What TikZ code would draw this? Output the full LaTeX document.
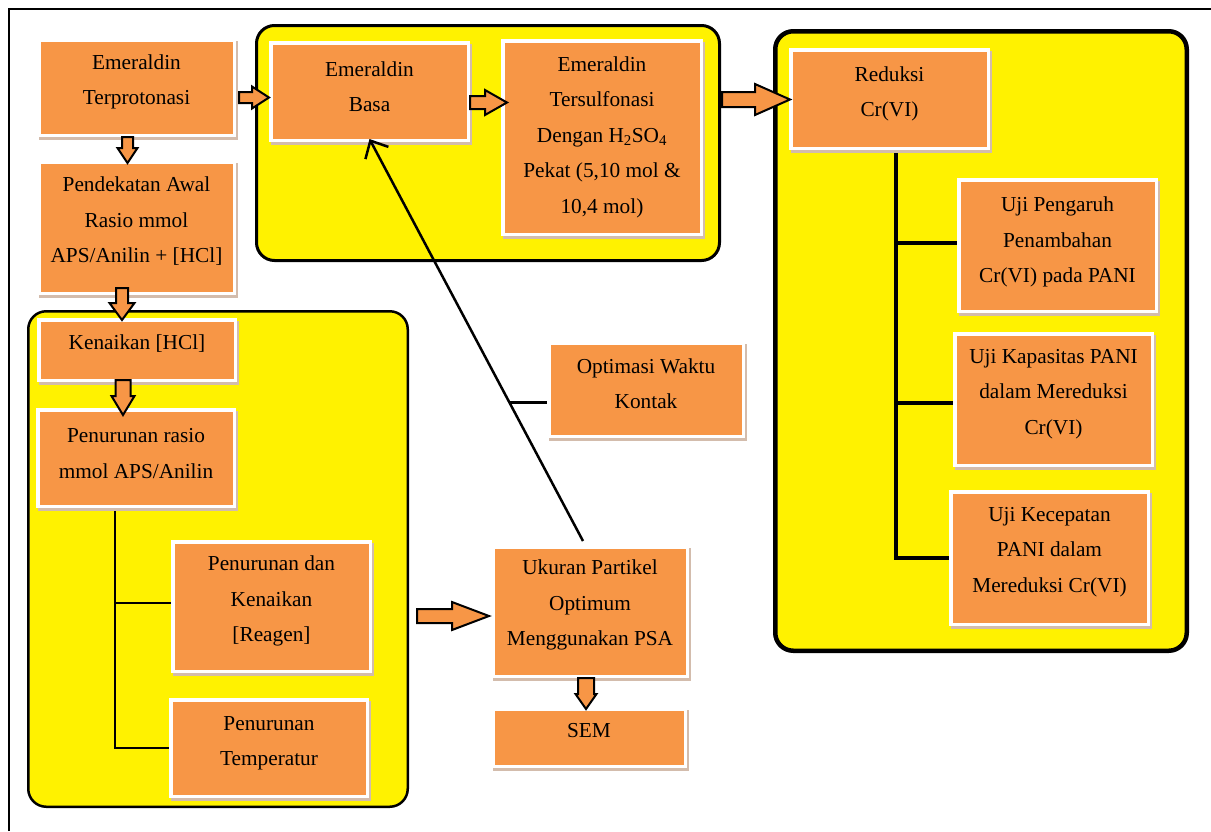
\documentclass[tikz,border=0pt]{standalone}
\usepackage{fontspec}
\setmainfont{Liberation Serif}
\usetikzlibrary{calc,arrows.meta}

\definecolor{boxorange}{HTML}{F79646}
\definecolor{grpyellow}{HTML}{FFF200}
\definecolor{boxshadow}{HTML}{D3BCAC}

\pgfdeclarelayer{back}
\pgfdeclarelayer{lines}
\pgfsetlayers{back,lines,main}

\tikzset{
  pbox/.style={fill=boxorange, draw=white, line width=3.5pt, inner sep=0pt},
  ptext/.style={align=center, inner sep=0pt, font=\fontsize{21.3}{35.5}\selectfont},
  grp/.style={fill=grpyellow, draw=black, rounded corners=18pt, inner sep=0pt},
  blk/.style={fill=boxorange, draw=black, line width=2pt, line join=miter},
  treeL/.style={draw=black, line width=2.3pt},
  treeR/.style={draw=black, line width=4pt},
  conn/.style={draw=black, line width=2.5pt},
}

% process box: [text shift]{name}{x1}{y1}{x2}{y2}{text}
\newcommand\pbox[7][5]{%
  \fill[boxshadow] ({#3+2},{#4+3}) rectangle ({#5+2},{#6+3});
  \node[pbox, minimum width={#5-#3-3.5}, minimum height={#6-#4-3.5}]
    (#2) at ({(#3+#5)/2},{(#4+#6)/2}) {};
  \node[ptext] (#2-t) at ([yshift=#1pt]#2.center) {#7};
}
% group container: {name}{x1}{y1}{x2}{y2}{line width}
\newcommand\grpbox[6]{%
  \node[grp, line width=#6pt, minimum width={#4-#2-#6}, minimum height={#5-#3-#6}]
    (#1) at ({(#2+#4)/2},{(#3+#5)/2}) {};
}
% block arrow pointing right: {from}{to}{half shaft}{half head}{head length}
\newcommand\rarr[5]{%
  \path[blk] let \p1=(#1), \p2=(#2) in
    (\x1,\y1+#3) -- (\x2-#5,\y1+#3) -- (\x2-#5,\y1+#4) -- (\x2,\y1)
    -- (\x2-#5,\y1-#4) -- (\x2-#5,\y1-#3) -- (\x1,\y1-#3) -- cycle;
}
% block arrow pointing down
\newcommand\darr[5]{%
  \path[blk] let \p1=(#1), \p2=(#2) in
    (\x1-#3,\y1) -- (\x1-#3,\y2+#5) -- (\x1-#4,\y2+#5) -- (\x1,\y2)
    -- (\x1+#4,\y2+#5) -- (\x1+#3,\y2+#5) -- (\x1+#3,\y1) -- cycle;
}

\begin{document}
\begin{tikzpicture}[x=1pt,y=-1pt]
\useasboundingbox (0,0) rectangle (1211,831);

% page frame
\draw[line width=2pt] (9,831) -- (9,9) -- (1211,9);

% group containers
\begin{pgfonlayer}{back}
  \grpbox{gA}{255}{24}{721}{262}{3}
  \grpbox{gB}{773}{29}{1189}{653}{4.5}
  \grpbox{gC}{27}{310}{409}{808}{2.5}
\end{pgfonlayer}

% process boxes
\pbox[5.5]{terp}{37}{38}{236}{137}{Emeraldin\\Terprotonasi}
\pbox[6]{pend}{37}{160}{236}{295}{Pendekatan Awal\\Rasio mmol\\APS/Anilin + [HCl]}
\pbox[5]{basa}{269}{41}{470}{142}{Emeraldin\\Basa}
\pbox[0.5]{ters}{501}{39}{703}{236}{Emeraldin\\Tersulfonasi\\Dengan H\textsubscript{2}SO\textsubscript{4}\\Pekat (5,10 mol \&\\10,4 mol)}
\pbox[5]{red}{789}{48}{990}{150}{Reduksi\\Cr(VI)}
\pbox[3.5]{peng}{957}{178}{1158}{313}{Uji Pengaruh\\Penambahan\\Cr(VI) pada PANI}
\pbox[5.5]{kap}{953}{332}{1154}{467}{Uji Kapasitas PANI\\dalam Mereduksi\\Cr(VI)}
\pbox[6]{kec}{949}{490}{1150}{626}{Uji Kecepatan\\PANI dalam\\Mereduksi Cr(VI)}
\pbox[6]{ken}{37}{318}{237}{382}{Kenaikan [HCl]}
\pbox[4.5]{rasio}{36}{408}{236}{508}{Penurunan rasio\\mmol APS/Anilin}
\pbox[5.5]{reag}{171}{540}{372}{673}{Penurunan dan\\Kenaikan\\{[Reagen]}}
\pbox[4.5]{temp}{169}{698}{369}{798}{Penurunan\\Temperatur}
\pbox[6]{opt}{547}{341}{745}{438}{Optimasi Waktu\\Kontak}
\pbox[6.5]{uk}{491}{545}{689}{678}{Ukuran Partikel\\Optimum\\Menggunakan PSA}
\pbox[7]{sem}{491}{707}{687}{768}{SEM}

% tree connectors
\begin{pgfonlayer}{lines}
  \coordinate (lt) at ([xshift=-21pt]rasio.south);
  \draw[treeL] (lt) -- (lt |- temp.west) -- (temp.west);
  \draw[treeL] ([yshift=3.5pt]lt |- reag.west) -- ([yshift=3.5pt]reag.west);
  \coordinate (rt) at ([xshift=6.5pt]red.south);
  \draw[treeR] (rt) -- (rt |- kec.west) -- (kec.west);
  \draw[treeR] ([yshift=3pt]rt |- peng.west) -- ([yshift=3pt]peng.west);
  \draw[treeR] ([yshift=-3pt]rt |- kap.west) -- ([yshift=-3pt]kap.west);
\end{pgfonlayer}

% block arrows
\rarr{[xshift=3pt,yshift=-10pt]terp.east}{basa.west}{5.5pt}{11pt}{17pt}
\rarr{[yshift=-11pt]basa.east}{[xshift=6pt]ters.west}{6.5pt}{12.5pt}{22pt}
\rarr{[xshift=19pt,yshift=38pt]ters.east}{[xshift=1pt]red.west}{7.5pt}{15.5pt}{35pt}
\darr{[xshift=-9pt]terp.south}{[yshift=-3pt]pend.north}{5.5pt}{10pt}{15pt}
\darr{[xshift=-14.5pt,yshift=7pt]pend.south}{[yshift=-2pt]ken.north}{6pt}{12.5pt}{17pt}
\darr{[xshift=-14pt,yshift=2pt]ken.south}{[yshift=-7pt]rasio.north}{7.5pt}{11.5pt}{19pt}
\darr{[xshift=-4pt]uk.south}{[yshift=-2pt]sem.north}{8pt}{10.5pt}{15pt}
\rarr{[xshift=45pt,yshift=-9.5pt]reag.east}{[xshift=-2pt]uk.west}{7pt}{14pt}{37pt}

% line back to Emeraldin Basa, with the branch from Optimasi Waktu Kontak
\draw[conn, -{Straight Barb[length=14pt,width=26pt]}]
  ([xshift=-7pt,yshift=4pt]uk.north) -- ([yshift=3pt]basa.south)
  coordinate[pos=0.344] (j);
\draw[conn] (j) -- (j -| opt.west);
\end{tikzpicture}
\end{document}
